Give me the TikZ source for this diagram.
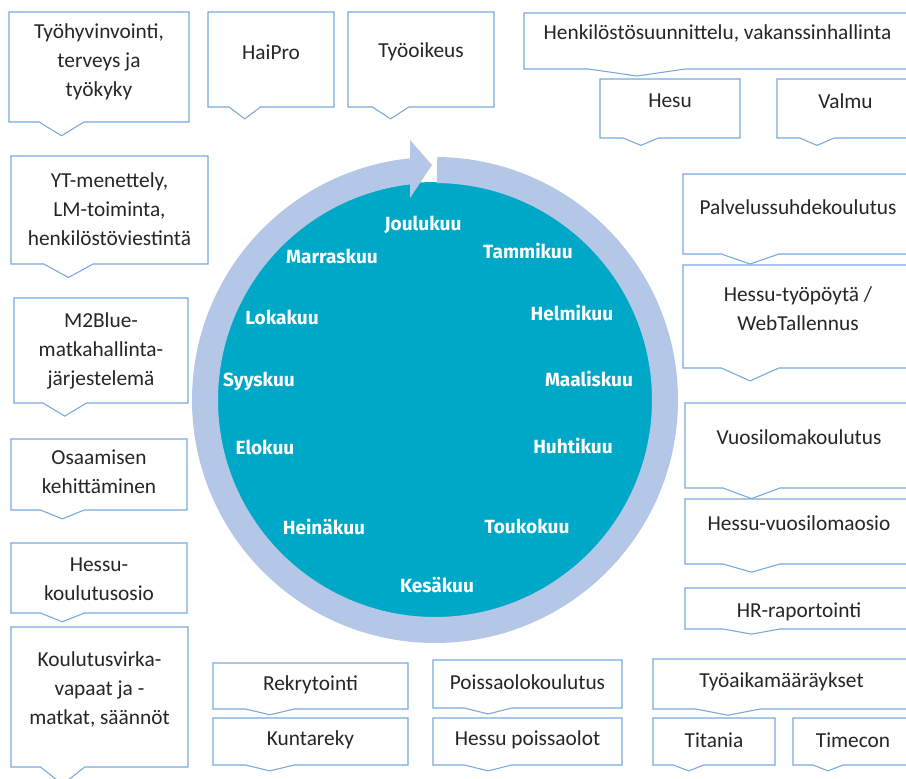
\documentclass[tikz,border=0pt]{standalone}
\usepackage{fontspec}
\setmainfont{Carlito}
\newfontfamily\monthfont{Fira Sans}
\definecolor{ringblue}{RGB}{180,199,231}
\definecolor{diskteal}{RGB}{0,168,200}
\definecolor{boxline}{RGB}{120,168,222}
\definecolor{boxtext}{RGB}{38,38,38}

% callout: name, x0, y0, x1, y1, text shift, text
\newcommand{\callout}[7]{%
  \draw[callout line] (#2,#3) -- (#4,#3) -- (#4,#5)
    -- ({#2+5*(#4-#2)/12},#5) -- ({#2+0.2917*(#4-#2)},{#5+0.125*(#5-#3)})
    -- ({#2+(#4-#2)/6},#5) -- (#2,#5) -- cycle;
  \node[box text] (#1) at ({(#2+#4)/2},{(#3+#5)/2+#6}) {#7};
}

\begin{document}
\begin{tikzpicture}[
	x=0.75pt,
	y=-0.75pt,
	callout line/.style={draw=boxline,fill=white,line width=0.8pt},
	box text/.style={text=boxtext,align=center,inner sep=0pt,font=\fontsize{16}{21.75}\selectfont},
	month/.style={text=white,inner sep=0pt,font=\monthfont\bfseries\fontsize{14.3}{17}\selectfont},
	ring/.style={draw=ringblue,line width=19.5pt}
]
\useasboundingbox (0,0) rectangle (906,778);
\clip (0,0) rectangle (906,778);
\fill[white] (0,0) rectangle (906,778);

% wheel
\begin{scope}[shift={(435,400)},yscale=-1]
\fill[diskteal] (0,0) circle (218);
\draw[ring] (89.5:230) arc[start angle=89.5,end angle=-264,radius=230];
\fill[ringblue] (-25,260) -- (-3,235) -- (-25,202) -- cycle;
\end{scope}

\node[month] (joulu) at (423,225) {Joulukuu};
\node[month] (tammi) at (528,251) {Tammikuu};
\node[month] (helmi) at (572,313) {Helmikuu};
\node[month] (maalis) at (589,379) {Maaliskuu};
\node[month] (huhti) at (573,446) {Huhtikuu};
\node[month] (touko) at (527,526) {Toukokuu};
\node[month] (kesa) at (437,585) {Kesäkuu};
\node[month] (heina) at (324,527) {Heinäkuu};
\node[month] (elo) at (265,447) {Elokuu};
\node[month] (syys) at (259,381) {Syyskuu};
\node[month] (loka) at (282,317) {Lokakuu};
\node[month] (marras) at (332,256) {Marraskuu};

% left column
\callout{hyvinvointi}{9}{12}{189}{122}{-5}{Työhyvinvointi,\\terveys ja\\työkyky}
\callout{yt}{11}{156}{208}{264}{-1}{YT-menettely,\\LM-toiminta,\\henkilöstöviestintä}
\callout{m2blue}{14}{298}{188}{403}{0}{M2Blue-\\matkahallinta-\\järjestelemä}
\callout{osaaminen}{11}{439}{187}{510}{-2.5}{Osaamisen\\kehittäminen}
\callout{koulutusosio}{11}{543}{187}{613}{1}{Hessu-\\koulutusosio}
\callout{virkavapaat}{11}{627}{188}{767}{-8}{Koulutusvirka-\\vapaat ja -\\matkat, säännöt}

% top row
\callout{haipro}{208}{12}{334}{107}{-7.5}{HaiPro}
\callout{tyooikeus}{348}{12}{494}{107}{-7.5}{Työoikeus}
\callout{suunnittelu}{524}{13}{911}{69}{-8}{Henkilöstösuunnittelu, vakanssinhallinta}
\callout{hesu}{600}{79}{740}{138}{-7.5}{Hesu}
\callout{valmu}{777}{79}{914}{138}{-7.5}{Valmu}

% right column
\callout{palvelussuhde}{683}{174}{913}{254}{-7}{Palvelussuhdekoulutus}
\callout{tyopoyta}{683}{265}{913}{368}{-7.5}{Hessu-työpöytä /\\WebTallennus}
\callout{vuosiloma}{685}{403}{913}{488}{-8.5}{Vuosilomakoulutus}
\callout{vuosilomaosio}{685}{499}{913}{564}{-8.5}{Hessu-vuosilomaosio}
\callout{raportointi}{685}{588}{913}{629}{3}{HR-raportointi}

% bottom row
\callout{rekry}{213}{663}{408}{709}{-1}{Rekrytointi}
\callout{kuntareky}{213}{718}{408}{765}{-1.5}{Kuntareky}
\callout{poissaolo}{433}{660}{622}{708}{-2}{Poissaolokoulutus}
\callout{poissaolot}{433}{718}{622}{765}{-1.5}{Hessu poissaolot}
\callout{tyoaika}{653}{659}{910}{709}{-2}{Työaikamääräykset}
\callout{titania}{653}{718}{775}{765}{-1.5}{Titania}
\callout{timecon}{793}{718}{913}{765}{-1.5}{Timecon}
\end{tikzpicture}
\end{document}
